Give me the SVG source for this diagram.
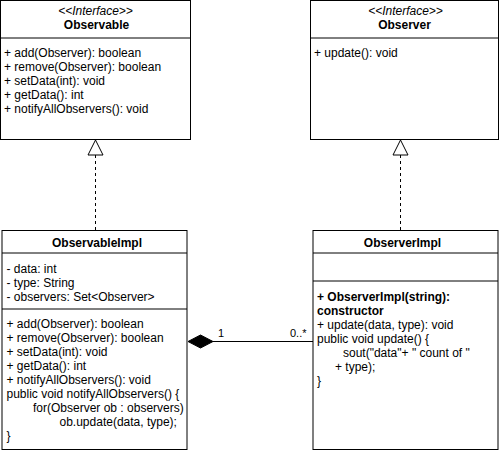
<svg xmlns="http://www.w3.org/2000/svg" width="501" height="451" viewBox="0 0 501 451">
<style>
  .box { fill: #ffffff; stroke: #000000; stroke-width: 1; }
  .div { stroke: #000000; stroke-width: 1; fill: none; }
  text { font-family: "Liberation Sans", Arial, Helvetica, sans-serif; font-size: 12px; fill: #000000; }
  .t { text-anchor: middle; font-weight: bold; }
  .st { text-anchor: middle; font-style: italic; }
  .b { font-weight: bold; }
  .lbl { font-size: 11px; }
  .dash { stroke: #000000; stroke-width: 1; stroke-dasharray: 3 3; fill: none; }
  .line { stroke: #000000; stroke-width: 1; fill: none; }
  .tri { fill: #ffffff; stroke: #000000; stroke-width: 1; }
  .dia { fill: #000000; stroke: #000000; stroke-width: 1; }
</style>
<rect x="0" y="0" width="501" height="451" fill="#ffffff"/>

<g id="connectors">
  <g id="realize-observable">
    <line class="dash" x1="95.5" y1="155" x2="95.5" y2="230"/>
    <polygon class="tri" points="95.5,140 103,155 88,155"/>
  </g>
  <g id="realize-observer">
    <line class="dash" x1="400.5" y1="155" x2="400.5" y2="230"/>
    <polygon class="tri" points="400.5,140 408,155 393,155"/>
  </g>
  <g id="composition">
    <line class="line" x1="213" y1="341.5" x2="313" y2="341.5"/>
    <polygon class="dia" points="188,341.5 200.5,335 213,341.5 200.5,348"/>
    <text class="lbl" x="218" y="337">1</text>
    <text class="lbl" x="290" y="337">0..*</text>
  </g>
</g>

<g id="Observable">
  <rect class="box" x="0.5" y="0.5" width="190" height="139"/>
  <line class="div" x1="0.5" y1="38" x2="190.5" y2="38"/>
  <text class="st" x="95.5" y="15">&lt;&lt;Interface&gt;&gt;</text>
  <text class="t" x="96.5" y="29">Observable</text>
  <text x="4" y="57">+ add(Observer): boolean</text>
  <text x="4" y="71">+ remove(Observer): boolean</text>
  <text x="4" y="85">+ setData(int): void</text>
  <text x="4" y="99">+ getData(): int</text>
  <text x="4" y="113">+ notifyAllObservers(): void</text>
</g>

<g id="Observer">
  <rect class="box" x="310.5" y="0.5" width="188" height="139"/>
  <line class="div" x1="310.5" y1="38" x2="498.5" y2="38"/>
  <text class="st" x="405.5" y="15">&lt;&lt;Interface&gt;&gt;</text>
  <text class="t" x="404.5" y="29">Observer</text>
  <text x="314" y="57">+ update(): void</text>
</g>

<g id="ObservableImpl">
  <rect class="box" x="2" y="230.5" width="185" height="219"/>
  <line class="div" x1="2" y1="253" x2="187" y2="253"/>
  <line class="div" x1="2" y1="309" x2="187" y2="309"/>
  <text class="t" x="97" y="247">ObservableImpl</text>
  <text x="6.5" y="273">- data: int</text>
  <text x="6.5" y="287">- type: String</text>
  <text x="6.5" y="301">- observers: Set&lt;Observer&gt;</text>
  <text x="6.5" y="328">+ add(Observer): boolean</text>
  <text x="6.5" y="342">+ remove(Observer): boolean</text>
  <text x="6.5" y="356">+ setData(int): void</text>
  <text x="6.5" y="370">+ getData(): int</text>
  <text x="6.5" y="384">+ notifyAllObservers(): void</text>
  <text x="6.5" y="398">public void notifyAllObservers() {</text>
  <text x="33" y="412">for(Observer ob : observers)</text>
  <text x="59.5" y="426">ob.update(data, type);</text>
  <text x="6.5" y="440">}</text>
</g>

<g id="ObserverImpl">
  <rect class="box" x="313" y="230.5" width="185" height="219"/>
  <line class="div" x1="313" y1="253" x2="498" y2="253"/>
  <line class="div" x1="313" y1="281" x2="498" y2="281"/>
  <text class="t" x="402.5" y="247">ObserverImpl</text>
  <text class="b" x="317" y="301">+ ObserverImpl(string):</text>
  <text class="b" x="317" y="315">constructor</text>
  <text x="317" y="329">+ update(data, type): void</text>
  <text x="317" y="343">public void update() {</text>
  <text x="343" y="357">sout("data"+ " count of "</text>
  <text x="335" y="371">+ type);</text>
  <text x="317" y="385">}</text>
</g>
</svg>
